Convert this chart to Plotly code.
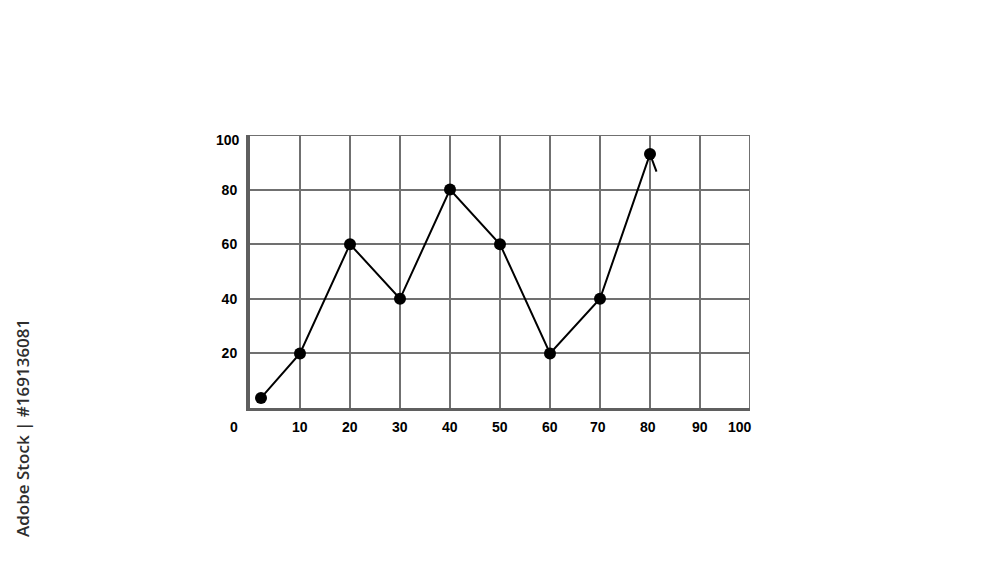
import plotly.graph_objects as go

# data
x_vals = [2.2, 10, 20, 30, 40, 50, 60, 70, 80]
y_vals = [3.7, 20, 60, 40, 80, 60, 20, 40, 93]
tail_x = [80, 81.3]
tail_y = [93, 86.6]
x_tick_labels = ["0", "10", "20", "30", "40", "50", "60", "70", "80", "90", "100"]
x_tick_vals = [0, 10, 20, 30, 40, 50, 60, 70, 80, 90, 100]
y_tick_vals = [20, 40, 60, 80]
y_top_label = 100

# label offsets (px) for the irregularly placed x labels
x_label_shift = [-16, 0, 0, 0, 0, 0, 0, -2, -2, 0, -10]

FONT = "Liberation Sans, Arial, sans-serif"
GRID = "#707070"

fig = go.Figure()
fig.add_trace(go.Scatter(
    x=x_vals, y=y_vals, mode="lines+markers",
    line=dict(color="black", width=2),
    marker=dict(color="black", size=12),
    showlegend=False, cliponaxis=False,
))
fig.add_trace(go.Scatter(
    x=tail_x, y=tail_y, mode="lines",
    line=dict(color="black", width=2),
    showlegend=False, cliponaxis=False,
))

for v, lab, sh in zip(x_tick_vals, x_tick_labels, x_label_shift):
    fig.add_annotation(
        x=v, y=0, xref="x", yref="y", text=f"<b>{lab}</b>", showarrow=False,
        yanchor="top", yshift=-9, xshift=sh,
        font=dict(family=FONT, size=14, color="black"),
    )

# top y label sits slightly below its gridline
fig.add_annotation(
    x=0, y=y_top_label, xref="x", yref="y", text=f"<b>{y_top_label}</b>", showarrow=False,
    xanchor="right", yanchor="middle", xshift=-8, yshift=-5,
    font=dict(family=FONT, size=14, color="black"),
)

# vertical watermark caption
fig.add_annotation(
    xref="paper", yref="paper",
    x=(22 - 250) / 500, y=(408 - 428) / 273,
    xanchor="center", yanchor="middle",
    text="Adobe Stock | #169136081",
    showarrow=False, textangle=-90,
    font=dict(family="Open Sans, sans-serif", size=17, color="#2e2e2e", weight=600),
)

fig.update_layout(
    width=992, height=554,
    margin=dict(l=242, r=250, t=127, b=154),
    paper_bgcolor="white", plot_bgcolor="white",
    xaxis=dict(
        range=[0, 100], dtick=10, showticklabels=False, ticks="",
        showgrid=True, gridcolor=GRID, gridwidth=2, zeroline=False,
        showline=True, linecolor="#5f5f5f", linewidth=3,
    ),
    yaxis=dict(
        range=[0, 100], tickvals=y_tick_vals, ticktext=[f"<b>{v}</b>" for v in y_tick_vals],
        showgrid=True, gridcolor=GRID, gridwidth=2, zeroline=False,
        showline=True, linecolor="#5f5f5f", linewidth=4,
        tickfont=dict(family=FONT, size=14, color="black"), ticklabelstandoff=6,
    ),
)
# top and right borders
fig.add_shape(type="line", xref="x", yref="y", x0=0, x1=100, y0=100, y1=100,
              line=dict(color=GRID, width=2))
fig.add_shape(type="line", xref="x", yref="y", x0=100, x1=100, y0=0, y1=100,
              line=dict(color=GRID, width=2))

fig.write_html("out.html")
